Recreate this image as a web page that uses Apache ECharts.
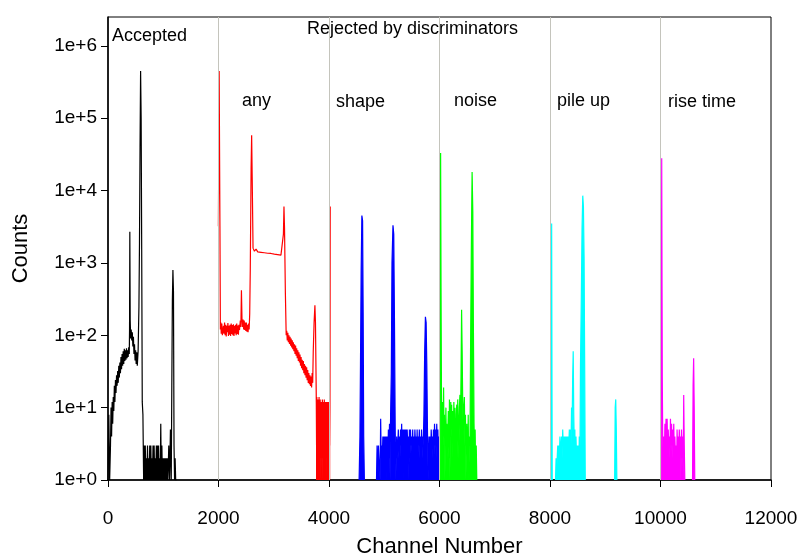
<!DOCTYPE html>
<html>
<head>
<meta charset="utf-8">
<script src="https://cdn.jsdelivr.net/npm/echarts@6/dist/echarts.min.js"></script>
<style>
  html, body { margin: 0; padding: 0; background: #fff; }
  #container { width: 805px; height: 559px; }
</style>
</head>
<body>
<div id="container"></div>
<script>
// [channel, counts], null = gap in the trace
const accepted = [
  [0,1],[15,8],[30,1],[45,3],[55,10],[65,4],[75,12],[85,6],[95,14],[105,9],[115,20],[125,12],
  [135,24],[145,16],[155,28],[165,20],[175,32],[185,22],[195,38],[205,26],[215,42],[225,30],
  [235,50],[245,34],[255,55],[265,38],[275,60],[285,40],[295,65],[305,44],[315,62],[325,46],
  [335,66],[345,48],[355,62],[365,50],[375,68],[385,55],[390,120],[395,2700],[402,160],[410,90],
  [420,120],[430,85],[440,110],[450,70],[460,95],[470,55],[480,75],[490,45],[500,62],[510,40],
  [520,58],[530,38],[545,60],[560,250],[570,1900],[580,40000],[590,450000],[600,100000],
  [610,1500],[620,12],[632,8],[645,1],[655,3],[665,1],[675,3],[685,1],[695,2],[705,1],[715,3],
  [725,1],[735,2],[745,1],[755,3],[765,1],[775,3],[785,1],[795,2],[805,1],[815,3],[825,1],
  [835,3],[845,1],[855,2],[865,1],[875,3],[885,1],[895,3],[905,1],[915,3],[925,1],[935,2],
  [945,1],[955,6],[965,1],[975,3],[985,1],[995,2],[1005,1],[1015,2],[1025,1],[1035,2],[1045,1],
  [1055,2],[1065,1],[1075,2],[1085,1],[1100,3],[1115,1],[1130,5],[1145,1],[1155,20],[1165,300],
  [1175,800],[1185,400],[1195,3],[1205,1],[1215,2],[1225,1],[1240,1]
];
const any = [
  [1998,3200],[2012,450000],[2026,3200],[2034,120],[2042,150],[2050,105],[2060,145],[2070,100],
  [2080,98],[2090,135],[2100,105],[2110,150],[2120,100],[2130,140],[2140,96],[2150,135],
  [2160,110],[2170,148],[2180,98],[2190,135],[2200,102],[2210,140],[2220,98],[2230,145],
  [2240,104],[2250,138],[2260,100],[2270,142],[2280,98],[2290,135],[2300,106],[2310,140],
  [2320,100],[2330,145],[2340,104],[2350,136],[2360,102],[2370,140],[2380,118],[2395,160],
  [2405,130],[2415,420],[2425,170],[2435,130],[2445,165],[2455,120],[2465,160],[2475,118],
  [2485,150],[2495,115],[2505,150],[2515,112],[2525,140],[2535,110],[2545,145],[2555,120],
  [2565,200],[2575,800],[2590,20000],[2600,58000],[2610,15000],[2625,1600],[2650,1450],
  [2680,1550],[2710,1420],[2740,1500],[2770,1400],[2800,1480],[2830,1380],[2860,1450],
  [2890,1360],[2920,1420],[2950,1350],[2980,1400],[3010,1320],[3040,1380],[3070,1300],
  [3100,1350],[3130,1280],[3160,1350],[3175,2500],[3185,6000],[3195,3000],[3210,400],[3225,100],
  [3235,115],[3245,85],[3255,108],[3265,80],[3275,100],[3285,76],[3295,95],[3305,72],[3315,90],
  [3325,68],[3335,85],[3345,64],[3355,80],[3365,60],[3375,75],[3385,55],[3395,72],[3405,52],
  [3415,66],[3425,48],[3435,62],[3445,44],[3455,58],[3465,42],[3475,54],[3485,38],[3495,50],
  [3505,35],[3515,46],[3525,33],[3535,44],[3545,30],[3555,40],[3565,28],[3575,38],[3585,26],
  [3595,36],[3605,24],[3615,33],[3625,22],[3635,30],[3645,21],[3655,28],[3665,20],[3675,27],
  [3685,19],[3695,30],[3705,22],[3715,60],[3730,150],[3745,260],[3755,150],[3765,30]
];
const anyTail = [
  [3765,30],[3770,12],[3775,3],[3780,14],[3785,4],[3790,12],[3795,2],[3800,13],[3805,5],
  [3810,12],[3815,3],[3820,14],[3825,2],[3830,11],[3835,4],[3840,13],[3845,2],[3850,10],
  [3855,1],[3860,12],[3865,3],[3870,11],[3875,2],[3880,13],[3885,4],[3890,1],[3895,12],
  [3900,3],[3905,11],[3910,2],[3915,13],[3920,4],[3925,12],[3930,2],[3935,10],[3940,3],
  [3945,12],[3950,2],[3955,11],[3960,1],[3965,12],[3970,3],[3975,11],[3980,2],[3985,12],
  [3990,3],[3995,10],[4000,2],[4005,12],[4010,3],[4015,10],[4022,6000]
];
const shape = [
  [4545,1],[4560,4],[4570,40],[4582,800],[4595,4500],[4608,3800],[4618,200],[4628,4],[4640,1],
  [4650,null],
  [4860,1],[4870,3],[4885,1],[4895,3],[4905,2],[4915,2],[4925,1],[4935,7],[4945,2],[4955,3],
  [4965,2],[4975,4],[4985,1],[4995,4],[5005,2],[5015,4],[5025,2],[5035,4],[5045,1],[5055,4],
  [5065,2],[5075,5],[5085,2],[5095,6],[5105,1],[5115,8],[5128,30],[5140,1000],[5158,3300],
  [5172,2500],[5185,150],[5198,5],[5210,1],[5225,4],[5235,2],[5245,3],[5255,5],[5265,2],
  [5275,4],[5285,2],[5295,5],[5305,3],[5315,6],[5325,2],[5335,5],[5345,1],[5355,5],[5365,3],
  [5375,5],[5385,2],[5395,5],[5405,2],[5415,5],[5425,3],[5435,4],[5445,1],[5455,5],[5465,2],
  [5475,5],[5485,3],[5495,4],[5505,2],[5515,5],[5525,2],[5535,4],[5545,2],[5555,5],[5565,3],
  [5575,4],[5585,2],[5595,5],[5605,1],[5615,4],[5625,3],[5635,5],[5645,2],[5655,4],[5665,2],
  [5675,5],[5685,2],[5695,4],[5705,3],[5718,8],[5732,60],[5745,180],[5758,150],[5770,40],
  [5782,5],[5795,1],[5810,4],[5820,2],[5830,4],[5840,2],[5850,5],[5860,3],[5870,4],[5880,2],
  [5890,5],[5900,2],[5910,6],[5920,3],[5930,5],[5940,2],[5950,6],[5960,3],[5970,5],[5980,2],
  [5990,4],[5998,1]
];
const noise = [
  [6010,1],[6020,33000],[6030,150],[6040,3],[6050,12],[6058,1],[6066,1],[6074,19],[6082,4],
  [6090,8],[6098,1],[6108,1],[6116,10],[6124,3],[6132,6],[6140,2],[6150,4],[6160,9],[6170,2],
  [6180,13],[6188,1],[6196,1],[6204,12],[6212,5],[6220,11],[6230,2],[6240,9],[6250,4],
  [6260,12],[6270,3],[6280,10],[6288,1],[6296,1],[6304,8],[6312,11],[6320,2],[6330,13],
  [6340,6],[6350,2],[6360,10],[6370,15],[6380,5],[6390,30],[6400,225],[6410,60],[6420,12],
  [6430,4],[6440,10],[6450,14],[6460,3],[6470,8],[6478,1],[6486,1],[6494,6],[6502,3],[6510,2],
  [6520,8],[6528,1],[6536,1],[6544,4],[6552,3],[6562,60],[6576,1500],[6590,18000],[6603,5000],
  [6613,150],[6625,6],[6635,2],[6645,5],[6655,1],[6665,3],[6675,1]
];
const pileUp = [
  [8020,1],[8030,3500],[8040,1],[8050,null],
  [8100,1],[8110,2],[8120,1],[8130,2],[8140,3],[8150,2],[8160,3],[8170,2],[8180,4],[8190,2],
  [8200,3],[8210,4],[8220,2],[8230,5],[8240,3],[8250,4],[8260,3],[8270,4],[8280,3],[8290,4],
  [8300,3],[8310,4],[8320,3],[8330,4],[8340,3],[8350,5],[8360,3],[8370,5],[8380,3],[8390,10],
  [8400,5],[8410,25],[8420,60],[8430,8],[8440,3],[8450,5],[8460,1],[8470,4],[8480,2],[8490,3],
  [8500,1],[8510,3],[8520,1],[8530,4],[8540,1],[8552,40],[8565,250],[8580,3000],[8593,8500],
  [8605,6000],[8617,1200],[8628,35],[8638,1],[8650,null],
  [9170,1],[9180,10],[9190,13],[9200,5],[9210,1]
];
const riseTime = [
  [10012,1],[10022,28000],[10032,26],[10040,4],[10050,2],[10060,4],[10070,2],[10080,6],[10090,3],
  [10100,7],[10110,3],[10120,7],[10130,2],[10140,5],[10150,3],[10160,4],[10170,2],[10180,7],
  [10190,3],[10200,6],[10210,2],[10220,5],[10230,3],[10240,6],[10250,2],[10260,4],[10270,2],
  [10280,3],[10290,1],[10300,5],[10310,2],[10320,4],[10330,2],[10340,5],[10350,3],[10360,4],
  [10370,1],[10380,5],[10390,2],[10400,4],[10410,1],[10420,15],[10430,3],[10440,1],[10450,null],
  [10580,1],[10590,20],[10600,48],[10610,10],[10620,1]
];
const dividers = [2000, 4000, 6000, 8000, 10000];
const yTicks = [1, 10, 100, 1000, 10000, 100000, 1000000];

const font = '"Liberation Sans", Arial, sans-serif';
const chart = echarts.init(document.getElementById('container'));

function trace(data, color, filled) {
  let s = {
    type: 'line', data: data, showSymbol: false, connectNulls: false, z: 3,
    lineStyle: { color: color, width: 1.2 }, itemStyle: { color: color }
  };
  if (filled) s.areaStyle = { color: color, opacity: 1 };
  return s;
}

let options = {
  animation: false,
  grid: {
    left: 108, right: 34, top: 17, bottom: 79, outerBoundsMode: 'none',
    show: true, borderColor: '#000', borderWidth: 1
  },
  xAxis: {
    type: 'value', min: 0, max: 12000, interval: 2000,
    name: 'Channel Number', nameLocation: 'middle', nameGap: 56,
    nameTextStyle: { fontFamily: font, fontSize: 22, color: '#000' },
    axisLine: { lineStyle: { color: '#000', width: 1.5 } },
    axisTick: { length: 7, lineStyle: { color: '#000' } },
    axisLabel: { margin: 29, fontFamily: font, fontSize: 19, color: '#000', formatter: v => String(v) },
    splitLine: { show: false }
  },
  yAxis: {
    type: 'log', logBase: 10, min: 1, max: 2.5e6,
    name: 'Counts', nameLocation: 'middle', nameGap: 76, nameRotate: 90,
    nameTextStyle: { fontFamily: font, fontSize: 22, color: '#000' },
    axisLine: { show: true, lineStyle: { color: '#000', width: 1.5 } },
    axisTick: { show: true, length: 7, lineStyle: { color: '#000' }, customValues: yTicks },
    axisLabel: {
      margin: 11, fontFamily: font, fontSize: 19, color: '#000', customValues: yTicks,
      formatter: v => '1e+' + Math.round(Math.log10(v))
    },
    splitLine: { show: false }
  },
  graphic: [
    { type: 'text', left: 112, top: 27, style: { text: 'Accepted', font: '18px ' + font, fill: '#000' } },
    { type: 'text', left: 307, top: 20, style: { text: 'Rejected by discriminators', font: '18px ' + font, fill: '#000' } },
    { type: 'text', left: 242, top: 92, style: { text: 'any', font: '18px ' + font, fill: '#000' } },
    { type: 'text', left: 336, top: 93, style: { text: 'shape', font: '18px ' + font, fill: '#000' } },
    { type: 'text', left: 454, top: 92, style: { text: 'noise', font: '18px ' + font, fill: '#000' } },
    { type: 'text', left: 557, top: 92, style: { text: 'pile up', font: '18px ' + font, fill: '#000' } },
    { type: 'text', left: 668, top: 93, style: { text: 'rise time', font: '18px ' + font, fill: '#000' } }
  ],
  series: [
    {
      type: 'line', data: [], z: 1,
      markLine: {
        silent: true, symbol: 'none', label: { show: false },
        lineStyle: { color: '#c4c4bc', width: 1, type: 'solid' },
        data: dividers.map(d => ({ xAxis: d }))
      }
    },
    trace(accepted, '#000000'),
    trace(any, '#ff0000'),
    trace(anyTail, '#ff0000', true),
    trace(shape, '#0000ff', true),
    trace(noise, '#00ff00', true),
    trace(pileUp, '#00ffff', true),
    trace(riseTime, '#ff00ff', true)
  ]
};

chart.setOption(options);
</script>
</body>
</html>
